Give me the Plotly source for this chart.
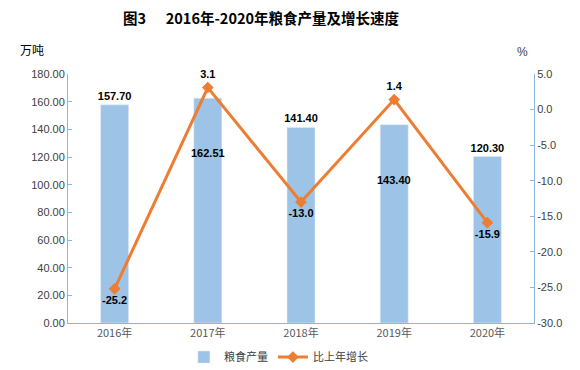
import plotly.graph_objects as go

years = ["2016年", "2017年", "2018年", "2019年", "2020年"]
output = [157.70, 162.51, 141.40, 143.40, 120.30]
growth = [-25.2, 3.1, -13.0, 1.4, -15.9]
left_ticks = [0, 20, 40, 60, 80, 100, 120, 140, 160, 180]
right_ticks = [-30, -25, -20, -15, -10, -5, 0, 5]

BAR = "#9DC3E6"
LINE = "#ED7D31"
AX = "#8EB4E3"
FONT = "Liberation Sans, Noto Sans CJK SC, sans-serif"

fig = go.Figure()
bar_pos = ["outside", "none", "outside", "none", "outside"]
fig.add_trace(go.Bar(
    x=years, y=output, name="粮食产量", marker_color=BAR, width=0.3,
    text=[f"{v:.2f}" if p == "outside" else "" for v, p in zip(output, bar_pos)],
    textposition="outside", cliponaxis=False, constraintext="none",
    textfont=dict(family=FONT, size=11, color="#000000", weight="bold"),
))
fig.add_trace(go.Scatter(
    x=years, y=growth, name="比上年增长", yaxis="y2", mode="lines+markers+text",
    line=dict(color=LINE, width=3), marker=dict(symbol="diamond", size=9, color=LINE),
    text=[f"{v:.1f}" for v in growth],
    textposition=["bottom center", "top center", "bottom center", "top center", "bottom center"],
    textfont=dict(family=FONT, size=11, color="#000000", weight="bold"),
    cliponaxis=False,
))
# inner bar labels placed away from the line
for i in (1, 3):
    fig.add_annotation(x=years[i], y=output[i], text=f"<b>{output[i]:.2f}</b>", showarrow=False,
                       yshift=-55, font=dict(family=FONT, size=11, color="#000000"))

fig.update_layout(
    width=580, height=370, margin=dict(l=68, r=46, t=74, b=47),
    paper_bgcolor="white", plot_bgcolor="white",
    font=dict(family=FONT, size=11, color="#404040"),
    title=dict(text="<b>图3\u00a0\u00a0\u00a0\u00a0\u00a0\u00a02016年-2020年粮食产量及增长速度</b>", x=0.45, xanchor="center",
               xref="container", y=0.95, yanchor="middle",
               font=dict(family="Noto Sans CJK SC", size=14.5, color="#000000")),
    xaxis=dict(showline=True, linecolor=AX, linewidth=1, ticks="", showgrid=False, automargin=False,
               tickfont=dict(size=11, color="#595959", family="Noto Sans CJK SC")),
    yaxis=dict(range=[0, 180], tickvals=left_ticks, ticktext=[f"{v:.2f}" for v in left_ticks],
               showline=True, linecolor=AX, ticks="inside", ticklen=4, tickcolor=AX, showgrid=False,
               zeroline=False, automargin=False, tickfont=dict(size=11, color="#404040")),
    yaxis2=dict(range=[-30, 5], tickvals=right_ticks, ticktext=[f"{v:.1f}" for v in right_ticks],
                overlaying="y", side="right", showline=True, linecolor=AX, ticks="inside", ticklen=4,
                tickcolor=AX, showgrid=False, zeroline=False, automargin=False,
                tickfont=dict(size=11, color="#404040")),
    legend=dict(orientation="h", x=0.48, xanchor="center", xref="container", y=0.035, yref="container",
                yanchor="middle", font=dict(family="Noto Sans CJK SC", size=11, color="#404040"),
                traceorder="normal", itemwidth=30, tracegroupgap=0),
    showlegend=True,
)
fig.add_annotation(text="万吨", xref="paper", yref="paper", x=-0.108, y=1.097, xanchor="left",
                   yanchor="middle", showarrow=False,
                   font=dict(family="Noto Sans CJK SC", size=12, color="#000000"))
fig.add_annotation(text="%", xref="paper", yref="paper", x=0.976, y=1.09, xanchor="center",
                   yanchor="middle", showarrow=False, font=dict(family=FONT, size=12, color="#404040"))

fig.write_html("out.html", config={"displayModeBar": False},
               post_script="document.body.style.margin='0';document.body.style.overflow='hidden';")
